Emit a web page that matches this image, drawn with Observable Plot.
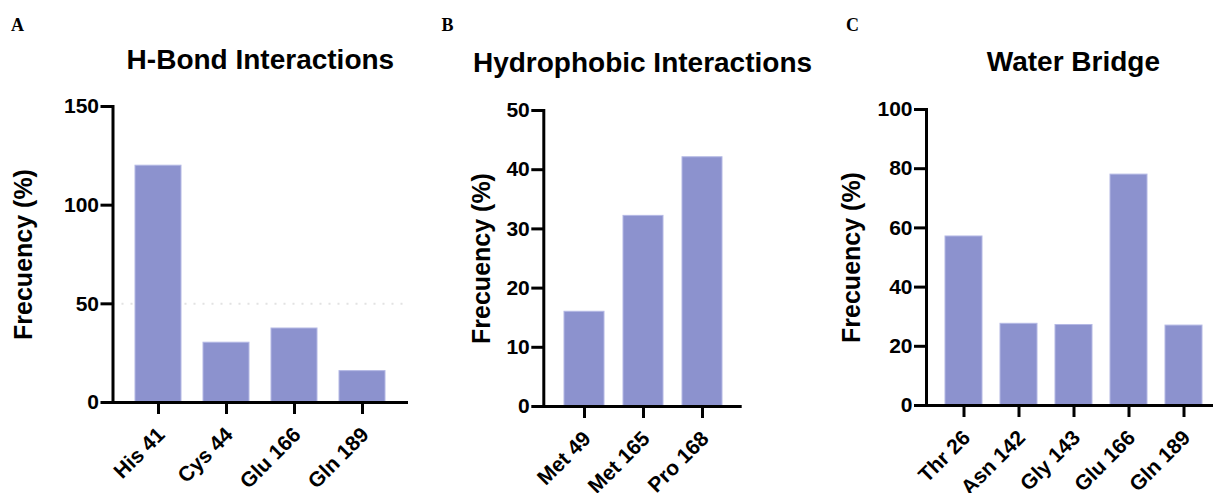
<!DOCTYPE html>
<html>
<head>
<meta charset="utf-8">
<script src="https://cdn.jsdelivr.net/npm/d3@7"></script>
<script src="https://cdn.jsdelivr.net/npm/@observablehq/plot@0.6"></script>
<style>
  html, body { margin: 0; padding: 0; background: white; overflow: hidden; }
  #wrap { position: relative; width: 1213px; height: 493px; overflow: hidden; background: white; }
  #wrap svg { position: absolute; top: 0; background: transparent; max-width: none; }
</style>
</head>
<body>
<div id="wrap"></div>
<script>
// ---- data ----
const hbondCats = ["His 41", "Cys 44", "Glu 166", "Gln 189"];
const hbondVals = [120, 30.3, 37.5, 15.9];
const hbondTicks = [0, 50, 100, 150];

const hydroCats = ["Met 49", "Met 165", "Pro 168"];
const hydroVals = [16, 32.2, 42.1];
const hydroTicks = [0, 10, 20, 30, 40, 50];

const waterCats = ["Thr 26", "Asn 142", "Gly 143", "Glu 166", "Gln 189"];
const waterVals = [57.1, 27.6, 27.2, 78, 27];
const waterTicks = [0, 20, 40, 60, 80, 100];

const titles = ["H-Bond Interactions", "Hydrophobic Interactions", "Water Bridge"];
const letters = ["A", "B", "C"];
const yLabel = "Frecuency (%)";

const barColor = "#8c92ce";
const sans = "'Liberation Sans', Arial, Helvetica, sans-serif";

function panel({cats, vals, ticks, left, width, mt, mb, ml, mr, labelDx, grid}) {
  const data = cats.map((c, i) => ({cat: c, val: vals[i]}));
  const marks = [];
  if (grid != null) {
    marks.push(Plot.ruleY([grid], {stroke: "#e2e2e2", strokeWidth: 2, strokeDasharray: "2,7"}));
  }
  marks.push(
    Plot.barY(data, {x: "cat", y: "val", fill: barColor, stroke: "#b4b8e4", strokeWidth: 1}),
    Plot.ruleY([0], {stroke: "black", strokeWidth: 3}),
    Plot.frame({anchor: "left", stroke: "black", strokeWidth: 3}),
    Plot.axisY({ticks, tickSize: 12, tickPadding: 2, strokeWidth: 3, fontSize: 21, fontWeight: "bold", label: null}),
    Plot.axisX({tickSize: 12, strokeWidth: 3, tickFormat: () => "", label: null}),
    Plot.text(cats, {x: d => d, frameAnchor: "bottom", rotate: -45, textAnchor: "end", lineAnchor: "top",
      dx: -3, dy: 23, fontSize: 21, fontWeight: "bold", fill: "black"}),
    Plot.text([yLabel], {frameAnchor: "left", rotate: -90, textAnchor: "middle", dx: labelDx,
      fontSize: 25, fontWeight: "bold", fill: "black"})
  );
  const svg = Plot.plot({
    width, height: 493,
    marginTop: mt, marginBottom: mb, marginLeft: ml, marginRight: mr,
    style: {fontFamily: sans, color: "black", background: "transparent"},
    x: {type: "band", domain: cats, padding: 0.33, label: null},
    y: {domain: [0, ticks[ticks.length - 1]], label: null},
    marks
  });
  svg.style.left = left + "px";
  return svg;
}

const wrap = document.getElementById("wrap");
wrap.appendChild(panel({cats: hbondCats, vals: hbondVals, ticks: hbondTicks, left: 0, width: 420,
  mt: 106, mb: 91, ml: 112.5, mr: 12, labelDx: -89, grid: 50}));
wrap.appendChild(panel({cats: hydroCats, vals: hydroVals, ticks: hydroTicks, left: 420, width: 340,
  mt: 110, mb: 87, ml: 123.3, mr: 18.3, labelDx: -61.6}));
wrap.appendChild(panel({cats: waterCats, vals: waterVals, ticks: waterTicks, left: 820, width: 410,
  mt: 109, mb: 88, ml: 106, mr: 9.2, labelDx: -74.3}));

// titles and panel letters
const overlay = d3.select(wrap).append("svg")
  .attr("width", 1213).attr("height", 493)
  .style("left", "0px").style("pointer-events", "none");
const titlePos = [[260.4, 68.5], [642.5, 71.5], [1073.4, 71]];
titles.forEach((t, i) => {
  overlay.append("text").attr("x", titlePos[i][0]).attr("y", titlePos[i][1])
    .attr("text-anchor", "middle").attr("font-family", sans).attr("font-weight", "bold")
    .attr("font-size", 28).attr("fill", "black").text(t);
});
const letterPos = [[11, 31], [441.5, 31], [846, 31]];
letters.forEach((t, i) => {
  overlay.append("text").attr("x", letterPos[i][0]).attr("y", letterPos[i][1])
    .attr("font-family", "'Liberation Serif', 'Times New Roman', serif").attr("font-weight", "bold")
    .attr("font-size", 18).attr("fill", "black").text(t);
});
</script>
</body>
</html>
